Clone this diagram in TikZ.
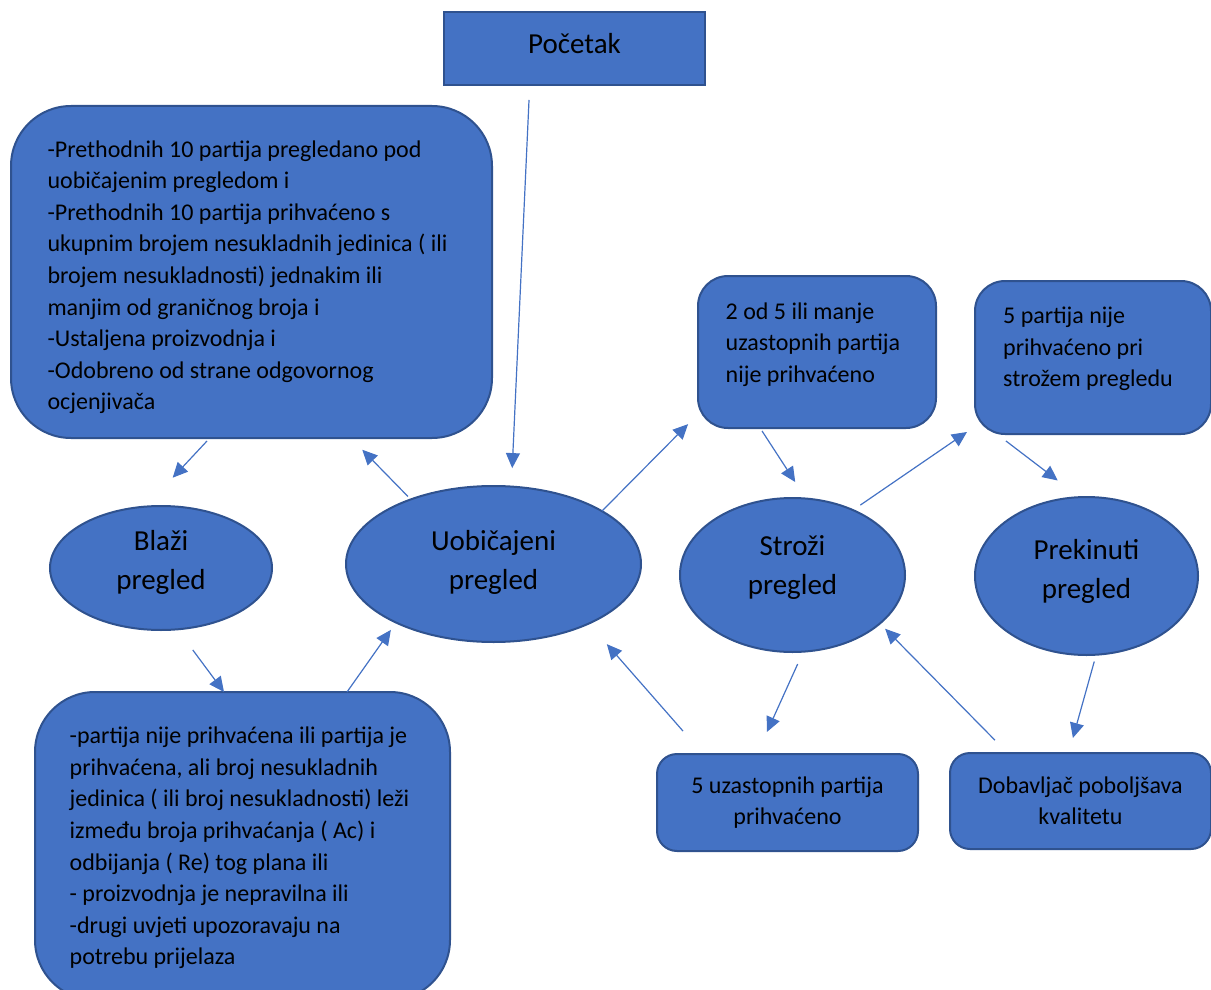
\documentclass[tikz,border=0pt]{standalone}
\usepackage{fontspec}
\setmainfont{Carlito}
\usetikzlibrary{arrows.meta,shapes.geometric,calc}
\definecolor{fillblue}{HTML}{4472C4}
\definecolor{edgeblue}{HTML}{2F528F}
\begin{document}
\begin{tikzpicture}[x=1pt,y=-1pt,
  shapebase/.style={draw=edgeblue, fill=fillblue, line width=2pt, inner sep=0pt, outer sep=0pt, text=black},
  bigtxt/.style={font=\fontsize{24pt}{31.6pt}\selectfont, align=left},
  smalltxt/.style={font=\fontsize{24pt}{31.2pt}\selectfont, align=center},
  rbox/.style={shapebase, rectangle, rounded corners=#1},
  ell/.style={shapebase, ellipse, font=\fontsize{29pt}{39pt}\selectfont, align=center},
  arr/.style={draw=fillblue, line width=1.2pt, -{Triangle[length=15pt,width=14pt]}}]
\useasboundingbox (0,0) rectangle (1211,990);

% nodes
\node[shapebase, rectangle, minimum width=261pt, minimum height=73pt,
      font=\fontsize{29pt}{35pt}\selectfont, text depth=11pt] (poc) at (574.5,48.5) {Početak};

\node[rbox=60pt, bigtxt, minimum width=481pt, minimum height=332pt, text height=280pt] (box1) at (251.5,272)
  {-Prethodnih 10 partija pregledano pod\\
   uobičajenim pregledom i\\
   -Prethodnih 10 partija prihvaćeno s\\
   ukupnim brojem nesukladnih jedinica ( ili\kern8pt\\
   brojem nesukladnosti) jednakim ili\\
   manjim od graničnog broja i\\
   -Ustaljena proizvodnja i\\
   -Odobreno od strane odgovornog\\
   ocjenjivača};

\node[rbox=60pt, bigtxt, minimum width=415pt, minimum height=308pt, text depth=0pt] (box2) at (242.5,846)
  {-partija nije prihvaćena ili partija je\\
   prihvaćena, ali broj nesukladnih\\
   jedinica ( ili broj nesukladnosti) leži\kern6pt\\
   između broja prihvaćanja ( Ac) i\\
   odbijanja ( Re) tog plana ili\\
   - proizvodnja je nepravilna ili\\
   -drugi uvjeti upozoravaju na\\
   potrebu prijelaza};

\node[ell, minimum width=222pt, minimum height=124pt, text depth=16pt] (blazi) at (161,568) {Blaži\\pregled};
\node[ell, minimum width=295pt, minimum height=156pt, text depth=9pt] (uob) at (493.5,564) {Uobičajeni\\pregled};
\node[ell, minimum width=225pt, minimum height=154pt, text depth=19pt] (stroz) at (792.5,575) {Stroži\\pregled};
\node[ell, minimum width=223pt, minimum height=158pt, text depth=15pt] (prek) at (1086.5,576) {Prekinuti\\pregled};

\node[rbox=30pt, bigtxt, minimum width=238pt, minimum height=152pt, text depth=19pt] (b2od5) at (817,352)
  {2 od 5 ili manje\\ uzastopnih partija\kern8pt\\ nije prihvaćeno};
\node[rbox=30pt, bigtxt, minimum width=236pt, minimum height=153pt, text depth=21pt] (b5p) at (1093,357.5)
  {5 partija nije\\ prihvaćeno pri\\ strožem pregledu\kern10pt};

\node[rbox=20pt, smalltxt, minimum width=261pt, minimum height=97pt] (b5u) at (787.5,802.5)
  {5 uzastopnih partija\\ prihvaćeno};
\node[rbox=20pt, smalltxt, minimum width=261pt, minimum height=96pt] (dob) at (1080.5,801)
  {Dobavljač poboljšava\\ kvalitetu};

% connectors
\draw[arr, shorten <=15pt, shorten >=18.5pt] ([xshift=-44.8pt]poc.south) -- (uob.77.9);
\draw[arr, shorten <=4.1pt, shorten >=39.5pt] ([xshift=-41.7pt]box1.south) -- (blazi.104.8);
\draw[arr, shorten <=4.2pt, shorten >=16.4pt] (uob.142.9) -- ([xshift=99.3pt]box1.south);
\draw[arr, shorten <=25.7pt] (blazi.285.2) -- ([xshift=-18.5pt]box2.north);
\draw[arr, shorten >=9pt] ([xshift=104.5pt]box2.north) -- (uob.211.1);
\draw[arr, shorten >=14.1pt] (uob.26.6) -- ([yshift=13.9pt]b2od5.south west);
\draw[arr, shorten <=3.6pt, shorten >=19.7pt] ([xshift=-56.9pt]b2od5.south) -- (stroz.80.2);
\draw[arr, shorten <=8.9pt, shorten >=9.7pt] (stroz.47.2) -- ([yshift=7.5pt]b5p.south west);
\draw[arr, shorten <=11.5pt, shorten >=27.5pt] ([xshift=-96.2pt]b5p.south) -- (prek.95.5);
\draw[arr, shorten <=13.6pt, shorten >=24.2pt] (stroz.278.3) -- ([xshift=-30.5pt]b5u.north);
\draw[arr, shorten <=30.5pt, shorten >=27.4pt] ([xshift=-84.4pt]b5u.north) -- (uob.328.1);
\draw[arr, shorten <=18.1pt, shorten >=7.4pt] ([xshift=-72.9pt]dob.north) -- (stroz.331.6);
\draw[arr, shorten <=7.1pt, shorten >=15.6pt] (prek.277.6) -- ([xshift=-11.8pt]dob.north);
\end{tikzpicture}
\end{document}
